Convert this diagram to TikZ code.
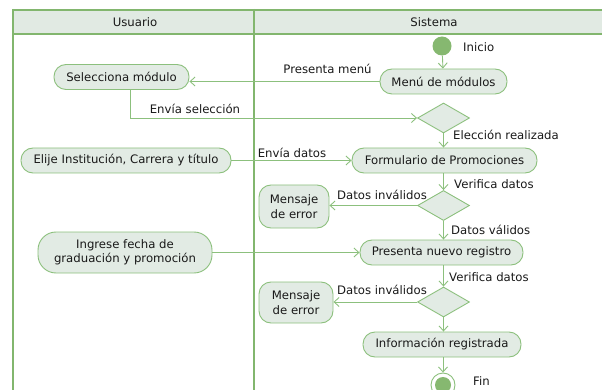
\documentclass[tikz,border=0pt]{standalone}
\usepackage{fontspec}
\setmainfont{DejaVu Sans}
\usetikzlibrary{shapes.geometric,arrows.meta}
\definecolor{lane}{RGB}{130,182,110}
\definecolor{hdr}{RGB}{225,234,227}
\definecolor{nfill}{RGB}{226,235,228}
\definecolor{nline}{RGB}{140,192,125}
\definecolor{dotg}{RGB}{134,184,112}
\definecolor{txt}{RGB}{25,25,25}
\begin{document}
\begin{tikzpicture}[x=1pt,y=-1pt,font=\fontsize{11.7}{14.5}\selectfont,
  act/.style={draw=nline,fill=nfill,line width=0.9pt,rounded corners=12pt,minimum height=25pt,inner sep=0pt,align=center,text=txt},
  dec/.style={diamond,draw=nline,fill=nfill,line width=0.9pt,minimum width=52pt,minimum height=30pt,inner sep=0pt},
  flow/.style={draw=nline,line width=0.9pt,-{Straight Barb[length=5pt,width=9pt]}},
  lbl/.style={inner sep=0pt,text=txt},
  laneline/.style={draw=lane,line width=2pt}]
\useasboundingbox (0,0) rectangle (602,390);
% swimlanes
\fill[hdr] (13,10) rectangle (602,34);
\draw[laneline] (13,10) -- (602,10);
\draw[laneline] (13,34) -- (602,34);
\draw[laneline] (13,9) -- (13,390);
\draw[laneline] (254,9) -- (254,390);
\node[lbl] (hu) at (135,22) {Usuario};
\node[lbl] (hs) at (434,22) {Sistema};
% nodes
\node[circle,fill=dotg,minimum size=19pt,inner sep=0pt] (ini) at (442,46) {};
\node[lbl,anchor=west] (tini) at (463,47) {Inicio};
\node[act,minimum width=127pt] (menu) at (443.5,81.5) {Menú de módulos};
\node[act,minimum width=135pt] (sel) at (121.5,77) {Selecciona módulo};
\node[dec] (d1) at (443.5,118) {};
\node[act,minimum width=185pt] (form) at (444.5,160.5) {Formulario de Promociones};
\node[act,minimum width=210pt] (elije) at (126,160.5) {Elije Institución, Carrera y título};
\node[dec] (d2) at (443.5,205.5) {};
\node[act,minimum width=70pt,minimum height=43pt] (err1) at (294,206.5) {Mensaje\\de error};
\node[act,minimum width=163pt] (pnr) at (441.5,252.5) {Presenta nuevo registro};
\node[act,minimum width=174pt,minimum height=41pt,rounded corners=18pt] (ing) at (125,252.5) {Ingrese fecha de\\graduación y promoción};
\node[dec] (d3) at (443.5,302) {};
\node[act,minimum width=74pt,minimum height=41pt] (err2) at (296,302.5) {Mensaje\\de error};
\node[act,minimum width=158pt] (info) at (442,344.5) {Información registrada};
\node[circle,draw=nline,fill=white,line width=0.9pt,minimum size=24pt,inner sep=0pt] (fin) at (443,385) {};
\node[circle,fill=dotg,minimum size=16pt,inner sep=0pt] (fdot) at (fin.center) {};
\node[lbl,anchor=west] (tfin) at (473,381) {Fin};
% connectors
\draw[flow] (ini) -- (menu);
\draw[flow] (menu.west) -- (menu.west -| sel.east);
\draw[flow] ([xshift=8.5pt]sel.south) |- (d1.west);
\draw[flow] (d1.south) -- (d1.south |- form.north);
\draw[flow] (elije.east) -- (elije.east -| form.west);
\draw[flow] (form.south -| d2.north) -- (d2.north);
\draw[flow] (d2.west) -- (d2.west -| err1.east);
\draw[flow] (d2.south) -- (d2.south |- pnr.north);
\draw[flow] (ing.east) -- (ing.east -| pnr.west);
\draw[flow] (pnr.south -| d3.north) -- (d3.north);
\draw[flow] (d3.west) -- (d3.west -| err2.east);
\draw[flow] (d3.south) -- (d3.south |- info.north);
\draw[flow] (info.south -| fin.north) -- (fin.north);
% labels
\node[lbl] (l1) at (327.5,69) {Presenta menú};
\node[lbl] (l2) at (195,108.5) {Envía selección};
\node[lbl,anchor=west] (l3) at (453,135) {Elección realizada};
\node[lbl] (l4) at (292,152.5) {Envía datos};
\node[lbl,anchor=west] (l5) at (454,184) {Verifica datos};
\node[lbl] (l6) at (382,195) {Datos inválidos};
\node[lbl,anchor=west] (l7) at (451,230) {Datos válidos};
\node[lbl,anchor=west] (l8) at (449,277) {Verifica datos};
\node[lbl] (l9) at (382,290) {Datos inválidos};
\end{tikzpicture}
\end{document}
